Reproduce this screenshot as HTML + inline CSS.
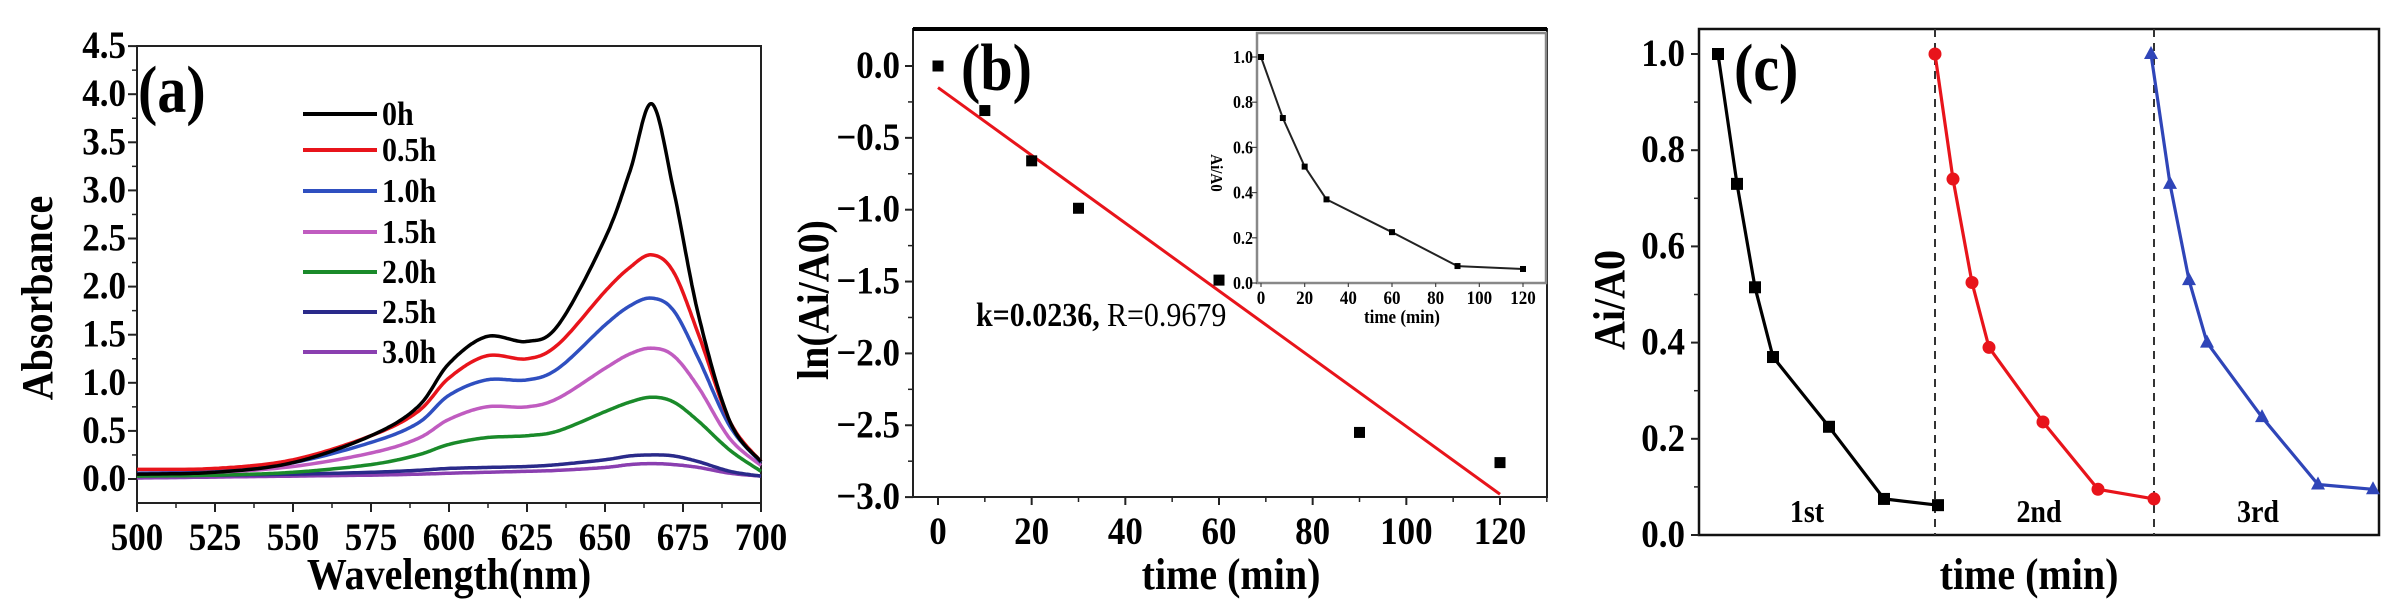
<!DOCTYPE html>
<html><head><meta charset="utf-8"><style>
html,body{margin:0;padding:0;background:#fff;}
svg{display:block;font-family:"Liberation Serif",serif;font-weight:bold;}
</style></head><body>
<svg id="s" width="2407" height="616" viewBox="0 0 2407 616" xmlns="http://www.w3.org/2000/svg">
<rect width="2407" height="616" fill="#fff"/>
<g id="g"></g>
</svg>
<script>
var out=[];
function add(s){out.push(s);}
function line(x1,y1,x2,y2,c,w,extra){add('<line x1="'+x1+'" y1="'+y1+'" x2="'+x2+'" y2="'+y2+'" stroke="'+c+'" stroke-width="'+w+'" '+(extra||'')+'/>');}
function text(x,y,t,sz,anchor,extra){add('<text x="'+x+'" y="'+y+'" font-size="'+sz+'" text-anchor="'+(anchor||'start')+'" '+(extra||'')+'>'+t+'</text>');}
function tt(x,y,t,sz,anchor,sy,rot,extra){add('<text transform="translate('+x+','+y+')'+(rot?' rotate('+rot+')':'')+' scale(1,'+(sy||1.12)+')" font-size="'+sz+'" text-anchor="'+(anchor||'start')+'" '+(extra||'')+'>'+t+'</text>');}
function poly(pts,c,w){add('<polyline fill="none" stroke="'+c+'" stroke-width="'+w+'" stroke-linejoin="round" points="'+pts.map(function(p){return p[0].toFixed(1)+','+p[1].toFixed(1)}).join(' ')+'"/>');}
function smooth(pts){var r=[];for(var i=0;i<pts.length-1;i++){var p0=pts[Math.max(0,i-1)],p1=pts[i],p2=pts[i+1],p3=pts[Math.min(pts.length-1,i+2)];for(var t=0;t<1;t+=0.05){var t2=t*t,t3=t2*t;var f=function(a,b,c,d){return 0.5*((2*b)+(-a+c)*t+(2*a-5*b+4*c-d)*t2+(-a+3*b-3*c+d)*t3)};r.push([f(p0[0],p1[0],p2[0],p3[0]),f(p0[1],p1[1],p2[1],p3[1])]);}}r.push(pts[pts.length-1]);return r;}

// ---------- Panel (a)
var aL=137,aR=761,aT=46,aB=503;
function ax(l){return aL+(l-500)/200*(aR-aL);}
function ay(v){return 479-v/0.5*48.1;}
add('<rect x="'+aL+'" y="'+aT+'" width="'+(aR-aL)+'" height="'+(aB-aT)+'" fill="none" stroke="#222" stroke-width="2"/>');
for(var v=0;v<=4.5;v+=0.5){var y=ay(v);line(aL-9,y,aL,y,'#222',2);tt(126,y+12,v.toFixed(1),35,'end');}
for(var v=0.25;v<=4.5;v+=0.5){line(aL-5,ay(v),aL,ay(v),'#222',1.5);}
for(var l=500;l<=700;l+=25){var x=ax(l);line(x,aB,x,aB+9,'#222',2);tt(x,550,l,35,'middle');}
for(var l=512.5;l<700;l+=25){line(ax(l),aB,ax(l),aB+5,'#222',1.5);}
tt(449,589,'Wavelength(nm)',40,'middle');
tt(52,298,'Absorbance',40,'middle',1.12,-90);
tt(138,112,'(a)',58,'start',1.15);
var L=[500,525,550,575,590,600,612,625,635,650,658,665,672,680,690,700];
var curves=[
['#000',[.05,.07,.17,.45,.75,1.2,1.48,1.43,1.6,2.5,3.2,3.9,3.0,1.7,.6,.18],'0h'],
['#e8141b',[.1,.11,.2,.45,.7,1.05,1.28,1.25,1.4,1.95,2.2,2.33,2.15,1.5,.6,.18],'0.5h'],
['#2f4fc0',[.06,.08,.17,.38,.58,.87,1.03,1.03,1.15,1.6,1.8,1.88,1.75,1.25,.55,.17],'1.0h'],
['#c05cc0',[.06,.07,.13,.27,.42,.62,.75,.75,.84,1.15,1.3,1.36,1.28,.95,.42,.14],'1.5h'],
['#1a8a2a',[.03,.04,.07,.15,.25,.36,.43,.45,.5,.7,.8,.85,.8,.6,.3,.08],'2.0h'],
['#2a2a8a',[.04,.04,.05,.07,.09,.11,.12,.13,.15,.2,.24,.25,.24,.18,.08,.03],'2.5h'],
['#8a3fb0',[.01,.02,.03,.04,.05,.06,.07,.08,.09,.12,.15,.16,.15,.12,.06,.03],'3.0h']];
var ly=[114,150,191,232,272,312,352];
curves.slice().reverse().forEach(function(c){poly(smooth(L.map(function(l,i){return [ax(l),ay(c[1][i])]})),c[0],3.5);});
curves.forEach(function(c,i){line(303,ly[i],377,ly[i],c[0],4);tt(382,ly[i]+11,c[2],30,'start');});

// ---------- Panel (b)
var bL=913,bR=1547,bT=29,bB=497;
function bx(t){return 938+t/120*(1500-938);}
function by(v){return 66-v*143.7;}
add('<rect x="'+bL+'" y="'+bT+'" width="'+(bR-bL)+'" height="'+(bB-bT)+'" fill="none" stroke="#222" stroke-width="2"/>');
line(bL,bT,bR,bT,'#000',4);
for(var v=0;v>=-3;v-=0.5){var y=by(v);line(bL-8,y,bL,y,'#222',2);tt(900,y+12,(v==0?'0.0':'\u2212'+(-v).toFixed(1)),35,'end');}
for(var v=-0.25;v>-3;v-=0.5){line(bL-5,by(v),bL,by(v),'#222',1.5);}
for(var t=0;t<=120;t+=20){var x=bx(t);line(x,bB,x,bB+8,'#222',2);tt(x,544,t,35,'middle');}
for(var t=10;t<=130;t+=20){line(bx(t),bB,bx(t),bB+5,'#222',1.5);}
tt(1231,589,'time (min)',40,'middle');
tt(828,300,'ln(Ai/A0)',40,'middle',1.12,-90);
tt(961,90,'(b)',58,'start',1.15);
line(bx(0),by(-0.15),bx(120),by(-2.98),'#e8141b',3);
[[0,0],[10,-0.31],[20,-0.66],[30,-0.99],[60,-1.49],[90,-2.55],[120,-2.76]].forEach(function(p){add('<rect x="'+(bx(p[0])-5.5)+'" y="'+(by(p[1])-5.5)+'" width="11" height="11" fill="#000"/>');});
tt(976,326,'k=0.0236,',30,'start');
tt(1107,326,'R=0.9679',30,'start',1.12,0,'font-weight="normal"');
// inset
add('<rect x="1257" y="33" width="289" height="250" fill="#fff" stroke="#888" stroke-width="2.5"/>');
function ix(t){return 1261+t/120*(1523-1261);}
function iy(v){return 283-v*226;}
for(var v=0;v<=1.0001;v+=0.2){line(1252,iy(v),1257,iy(v),'#444',1.2);tt(1253,iy(v)+6,v.toFixed(1),16,'end');}
for(var t=0;t<=120;t+=20){line(ix(t),283,ix(t),287,'#444',1.2);tt(ix(t),304,t,17,'middle');}
tt(1402,323,'time (min)',17,'middle');
tt(1211,173,'Ai/A0',15,'middle',1.12,90);
var ip=[[0,1],[10,.73],[20,.515],[30,.37],[60,.225],[90,.075],[120,.062]].map(function(p){return [ix(p[0]),iy(p[1])]});
poly(ip,'#222',2);ip.forEach(function(p){add('<rect x="'+(p[0]-3)+'" y="'+(p[1]-3)+'" width="6" height="6" fill="#000"/>');});

// ---------- Panel (c)
var cL=1699,cR=2379,cT=29,cB=535;
function cy(v){return 535-v*481;}
add('<rect x="'+cL+'" y="'+cT+'" width="'+(cR-cL)+'" height="'+(cB-cT)+'" fill="none" stroke="#111" stroke-width="2.5"/>');
for(var v=0;v<=1.0001;v+=0.2){var y=cy(v);line(cL-8,y,cL,y,'#222',2);tt(1685,y+12,v.toFixed(1),35,'end');}
for(var v=0.1;v<1;v+=0.2){line(cL-5,cy(v),cL,cy(v),'#222',1.5);}
tt(2029,589,'time (min)',40,'middle');
tt(1624,300,'Ai/A0',40,'middle',1.12,-90);
tt(1734,90,'(c)',58,'start',1.15);
line(1935,cT,1935,cB,'#333',2,'stroke-dasharray="8,6"');
line(2154,cT,2154,cB,'#333',2,'stroke-dasharray="8,6"');
tt(1807,522,'1st',28,'middle');tt(2039,522,'2nd',28,'middle');tt(2258,522,'3rd',28,'middle');
var ser=[
['#000','s',[1718,1737,1755,1773,1829,1884,1938],[1,.73,.515,.37,.225,.075,.062]],
['#e8141b','c',[1935,1953,1972,1989,2043,2098,2154],[1,.74,.525,.39,.235,.095,.075]],
['#2f45b8','t',[2151,2170,2189,2207,2262,2318,2373],[1,.73,.53,.4,.245,.105,.095]]];
ser.forEach(function(s){var pts=s[2].map(function(x,i){return [x,cy(s[3][i])]});poly(pts,s[0],3.2);
pts.forEach(function(p){if(s[1]=='s')add('<rect x="'+(p[0]-6)+'" y="'+(p[1]-6)+'" width="12" height="12" fill="'+s[0]+'"/>');
else if(s[1]=='c')add('<circle cx="'+p[0]+'" cy="'+p[1]+'" r="6.5" fill="'+s[0]+'"/>');
else add('<polygon points="'+p[0]+','+(p[1]-8)+' '+(p[0]-7)+','+(p[1]+5)+' '+(p[0]+7)+','+(p[1]+5)+'" fill="'+s[0]+'"/>');});});
document.getElementById('g').innerHTML=out.join('');
</script>
</body></html>
